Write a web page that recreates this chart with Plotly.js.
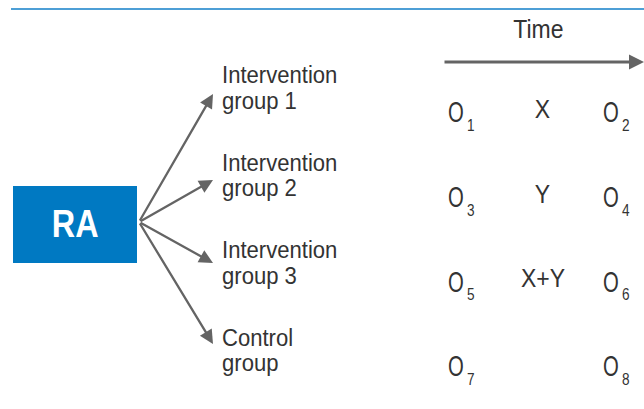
<!DOCTYPE html>
<html>
<head>
<meta charset="utf-8">
<script src="https://cdn.plot.ly/plotly-3.0.1.min.js"></script>
<style>html,body{margin:0;padding:0;background:#fff;}#chart{width:644px;height:409px;}</style>
</head>
<body>
<div id="chart"></div>
<script>
// ---- data ----
const groupLine1 = ["Intervention", "Intervention", "Intervention", "Control"];
const groupLine2 = ["group 1", "group 2", "group 3", "group"];
const preIdx = ["1", "3", "5", "7"];
const treatment = ["X", "Y", "X+Y", ""];
const postIdx = ["2", "4", "6", "8"];
const boxLabel = "RA";
const timeLabel = "Time";

// ---- layout constants ----
const W = 644, H = 409;
const FONT = "'Liberation Sans', Arial, sans-serif";
const TXT = "#333333";
const ARROW = "#646464";
const labelStep = 87.5, labelY0 = 75, lineGap = 25.5;
const obsStep = 84.7, obsY0 = 112.3;
const origin = {x: 139, y: 222};
const tipX = 213;
const tipY = [94, 180, 263, 344];

const annotations = [];
const scales = [];   // horizontal condensation per annotation
const shapes = [];
function addText(a, sx) { annotations.push(a); scales.push(sx); }

// top rule
shapes.push({type: "line", xref: "x", yref: "y", x0: 11, x1: W, y0: 9, y1: 9,
  line: {color: "#4d9fd6", width: 2}});
// RA box
shapes.push({type: "rect", xref: "x", yref: "y", x0: 13, x1: 137, y0: 186, y1: 263,
  fillcolor: "#0079c2", line: {width: 0}});
addText({x: 75, y: 223, xref: "x", yref: "y", text: "<b>" + boxLabel + "</b>",
  showarrow: false, font: {family: FONT, size: 39, color: "#ffffff"}, xanchor: "center", yanchor: "middle"}, 0.83);

// time arrow
addText({x: 644, y: 62, ax: 443, ay: 62, xref: "x", yref: "y", axref: "x", ayref: "y",
  text: "", showarrow: true, arrowhead: 2, arrowsize: 1.0, arrowwidth: 3, arrowcolor: ARROW, standoff: 0}, 1);
addText({x: 538, y: 29.3, xref: "x", yref: "y", text: timeLabel, showarrow: false,
  font: {family: FONT, size: 25, color: TXT}, xanchor: "center", yanchor: "middle"}, 0.92);

groupLine1.forEach((g, i) => {
  const ly = labelY0 + i * labelStep;
  const oy = obsY0 + i * obsStep;
  // branch arrow
  addText({x: tipX, y: tipY[i], ax: origin.x, ay: origin.y, xref: "x", yref: "y", axref: "x", ayref: "y",
    text: "", showarrow: true, arrowhead: 2, arrowsize: 1.2, arrowwidth: 2.3, arrowcolor: ARROW, standoff: 0}, 1);
  // group labels
  addText({x: 220, y: ly, xref: "x", yref: "y", text: g, showarrow: false,
    font: {family: FONT, size: 23, color: TXT}, xanchor: "left", yanchor: "middle"}, 0.96);
  addText({x: 220, y: ly + lineGap, xref: "x", yref: "y", text: groupLine2[i], showarrow: false,
    font: {family: FONT, size: 23, color: TXT}, xanchor: "left", yanchor: "middle"}, 0.96);
  // observations (O with subscript index)
  addText({x: 446, y: oy, xref: "x", yref: "y", text: "O", showarrow: false,
    font: {family: FONT, size: 29, color: TXT}, xanchor: "left", yanchor: "middle"}, 0.7);
  addText({x: 465, y: oy + 13.2, xref: "x", yref: "y", text: preIdx[i], showarrow: false,
    font: {family: FONT, size: 16, color: TXT}, xanchor: "left", yanchor: "middle"}, 0.85);
  if (treatment[i]) {
    addText({x: 542.5, y: oy - 3.5, xref: "x", yref: "y", text: treatment[i], showarrow: false,
      font: {family: FONT, size: 25, color: TXT}, xanchor: "center", yanchor: "middle"}, 0.92);
  }
  addText({x: 601, y: oy, xref: "x", yref: "y", text: "O", showarrow: false,
    font: {family: FONT, size: 29, color: TXT}, xanchor: "left", yanchor: "middle"}, 0.7);
  addText({x: 619.5, y: oy + 13.2, xref: "x", yref: "y", text: postIdx[i], showarrow: false,
    font: {family: FONT, size: 16, color: TXT}, xanchor: "left", yanchor: "middle"}, 0.85);
});

const layout = {
  width: W, height: H,
  margin: {l: 0, r: 0, t: 0, b: 0, pad: 0},
  paper_bgcolor: "#ffffff", plot_bgcolor: "#ffffff",
  xaxis: {range: [0, W], visible: false, fixedrange: true},
  yaxis: {range: [H, 0], visible: false, fixedrange: true},
  showlegend: false,
  shapes: shapes,
  annotations: annotations
};
const gd = document.getElementById("chart");
Plotly.newPlot(gd, [], layout, {staticPlot: true, displayModeBar: false}).then(() => {
  gd.querySelectorAll("g.annotation").forEach(g => {
    const idx = +g.getAttribute("data-index");
    const a = annotations[idx];
    const sx = scales[idx];
    if (!a || !a.text || sx === 1) return;
    const t = g.querySelector("text.annotation-text");
    if (!t) return;
    const bb = t.getBBox();
    const cx = a.xanchor === "left" ? bb.x : bb.x + bb.width / 2;
    const prev = t.getAttribute("transform") || "";
    t.setAttribute("transform", prev + ` translate(${cx},0) scale(${sx},1) translate(${-cx},0)`);
  });
});
</script>
</body>
</html>
